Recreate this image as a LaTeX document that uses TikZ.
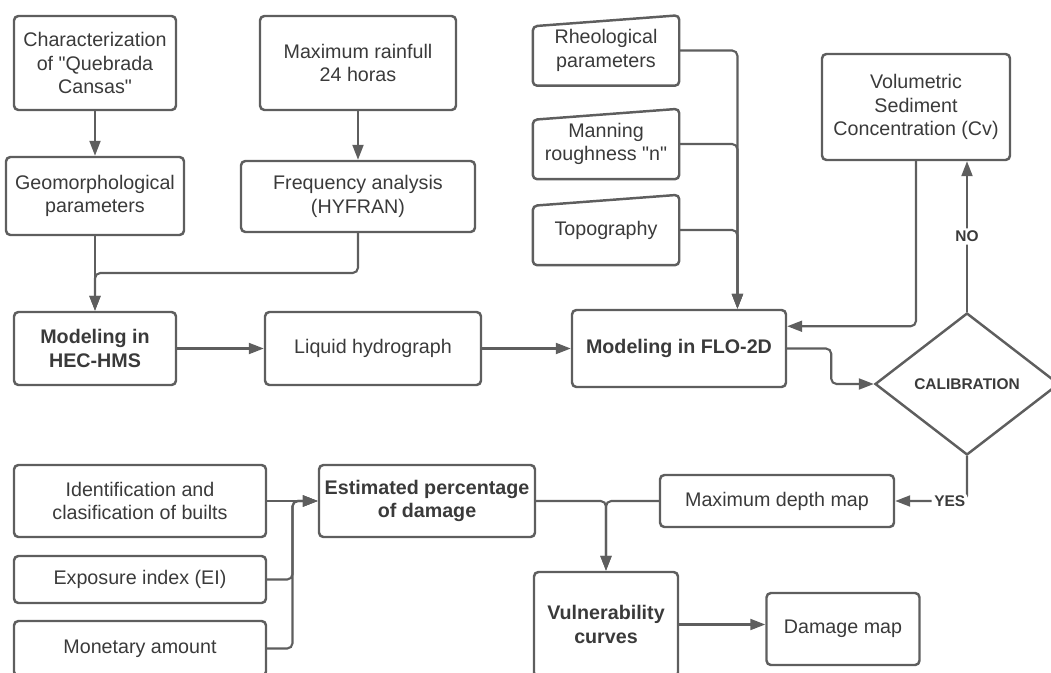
\documentclass[tikz,border=0pt]{standalone}
\usepackage{fontspec}
\setmainfont{Liberation Sans}
\usetikzlibrary{arrows.meta,shapes.geometric,calc}
\definecolor{slate}{RGB}{94,94,94}
\definecolor{charcoal}{RGB}{58,58,58}
\tikzset{
  >={Triangle[length=3mm,width=2.2mm]},
  outline/.style={draw=slate,line width=1.4pt,rounded corners=2.5pt},
  box/.style={outline,align=center,text=charcoal,inner sep=2pt,
    font=\fontsize{11.2}{13.4}\selectfont},
  bold box/.style={box,font=\fontsize{11.2}{13.4}\selectfont\bfseries},
  input/.style={box,draw=none},
  check/.style={diamond,draw=slate,line width=1.4pt,text=charcoal,inner sep=0pt,
    font=\fontsize{8.8}{10}\selectfont\bfseries},
  flow/.style={->,draw=slate,line width=1.2pt,rounded corners=3pt},
  answer/.style={fill=white,text=charcoal,inner sep=1.5pt,
    font=\fontsize{8.8}{10}\selectfont\bfseries},
}
\begin{document}
\begin{tikzpicture}
  \useasboundingbox (0,0) rectangle (21.02,-13.46);
  % hydrology branch
  \node[box,minimum width=3.24cm,minimum height=1.88cm] (char) at (1.90,-1.26) {Characterization\\of \textquotedbl Quebrada\\Cansas\textquotedbl};
  \node[box,minimum width=3.92cm,minimum height=1.88cm] (rain) at (7.16,-1.26) {Maximum rainfull\\24 horas};
  \node[box,minimum width=3.56cm,minimum height=1.56cm] (geo) at (1.90,-3.92) {Geomorphological\\parameters};
  \node[box,minimum width=4.68cm,minimum height=1.42cm] (freq) at (7.16,-3.93) {Frequency analysis\\(HYFRAN)};
  \node[bold box,minimum width=3.24cm,minimum height=1.46cm] (hec) at (1.90,-6.97) {Modeling in\\HEC-HMS};
  \node[box,minimum width=4.32cm,minimum height=1.46cm] (liq) at (7.46,-6.97) {Liquid hydrograph};
  \node[bold box,minimum width=4.28cm,minimum height=1.54cm] (flo) at (13.58,-6.97) {Modeling in FLO-2D};
  % manual inputs
  \foreach \n/\y/\t in {rheo/-1.01/{Rheological\\parameters},mann/-2.88/{Manning\\roughness \textquotedbl n\textquotedbl},topo/-4.60/Topography}
  {
    \node[input,minimum width=2.88cm,minimum height=1.36cm] (\n) at (12.12,\y) {\t};
    \draw[outline] ([yshift=-0.22cm]\n.north west) -- (\n.north east) -- (\n.south east) -- (\n.south west) -- cycle;
  }
  \node[box,minimum width=3.76cm,minimum height=2.12cm] (vol) at (18.32,-2.14) {Volumetric\\Sediment\\Concentration (Cv)};
  \node[check,minimum width=3.68cm,minimum height=2.84cm] (calib) at (19.34,-7.68) {CALIBRATION};
  % damage branch
  \node[box,minimum width=4.68cm,minimum height=1.04cm] (depth) at (15.54,-10.02) {Maximum depth map};
  \node[bold box,minimum width=4.32cm,minimum height=1.44cm] (est) at (8.54,-10.02) {Estimated percentage\\of damage};
  \node[bold box,minimum width=2.88cm,minimum height=2.1cm] (vuln) at (12.12,-12.49) {Vulnerability\\curves};
  \node[box,minimum width=3.06cm,minimum height=1.44cm] (dmg) at (16.86,-12.58) {Damage map};
  \node[box,minimum width=5.04cm,minimum height=1.44cm] (ident) at (2.80,-10.02) {Identification and\\clasification of builts};
  \node[box,minimum width=5.04cm,minimum height=0.94cm] (expo) at (2.80,-11.59) {Exposure index (EI)};
  \node[box,minimum width=5.04cm,minimum height=1.1cm] (mone) at (2.80,-12.97) {Monetary amount};

  \coordinate (j1) at (1.90,-5.46);
  \coordinate (fin) at ($(flo.north)!0.54!(flo.north east)$);
  \coordinate (vin) at ($(flo.north east)!0.22!(flo.south east)$);
  \coordinate (bus) at ($(ident.east)!0.5!(est.west)$);

  \draw[flow] (char) -- (geo);
  \draw[flow] (rain) -- (freq);
  \draw[flow] (geo) -- (hec);
  \draw[flow] (freq.south) |- (j1) -- (hec.north);
  \draw[flow] (hec) -- (liq);
  \draw[flow] (liq) -- (flo);
  \foreach \n in {rheo,mann,topo}
    \draw[flow] (\n.east) -| (fin);
  \draw[flow] (vol.south) |- (vin);
  \draw[flow] (flo.east) -- ++(0.88,0) |- (calib.west);
  \draw[flow] (calib.north) -- node[answer]{NO} (calib.north |- vol.south);
  \draw[flow] (calib.south) |- node[answer,pos=0.62]{YES} (depth.east);
  \draw[flow] (depth.west) -| (vuln.north);
  \draw[flow] (est.east) -| (vuln.north);
  \draw[flow] (vuln.east) -- (vuln.east -| dmg.west);
  \draw[flow] (ident) -- (est);
  \foreach \n in {expo,mone}
    \draw[flow] (\n.east) -| (bus) -- (est.west);
\end{tikzpicture}
\end{document}
